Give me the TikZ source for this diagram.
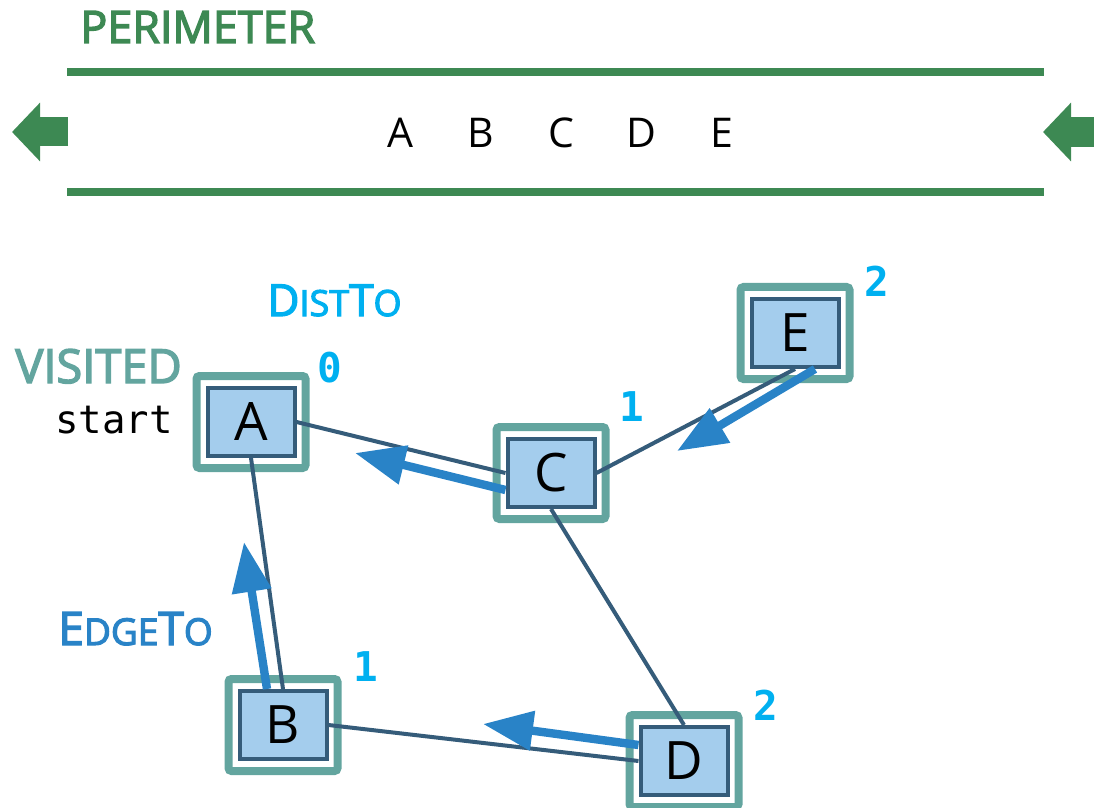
\documentclass[tikz,border=0pt]{standalone}
\usepackage{fontspec}
\setmainfont{Open Sans}
\setmonofont{DejaVu Sans Mono}
\newfontfamily\labelfont{Open Sans}[FakeBold=3]
\usepackage{tikz}
\definecolor{perigreen}{RGB}{61,137,83}
\definecolor{visitteal}{RGB}{99,165,159}
\definecolor{vertfill}{RGB}{164,205,237}
\definecolor{vertline}{RGB}{53,92,122}
\definecolor{treeblue}{RGB}{41,131,199}
\definecolor{distcyan}{RGB}{0,176,240}
\usetikzlibrary{arrows.meta, calc}
% unechte Kapitaelchen
\newcommand{\fakesc}[2]{{\fontsize{#1}{#1}\selectfont #2}}

\begin{document}
\begin{tikzpicture}[x=0.5pt, y=-0.5pt,
				vertex/.style={draw=vertline, fill=vertfill, line width=2pt, minimum width=43.5pt, minimum height=34pt, inner sep=0pt, font=\fontsize{26.5}{26.5}\selectfont},
				marked/.style={draw=visitteal, line width=4pt, rounded corners=1.5pt},
				link/.style={draw=vertline, line width=2pt},
				treelink/.style={draw=treeblue, line width=4.2pt, -{Triangle[length=25pt, width=19pt]}},
				distlabel/.style={text=distcyan, anchor=base, inner sep=0pt, font=\ttfamily\bfseries\fontsize{20.5}{20.5}\selectfont},
				caption/.style={anchor=base west, inner sep=0pt}]
				\useasboundingbox (0,0) rectangle (1094,808);
				% Warteschlange oben
				\node[caption, text=perigreen, font=\labelfont\fontsize{22.4}{22.4}\selectfont] (peri) at (80,43) {PERIMETER};
				\draw[perigreen, line width=4pt] (67,72) -- (1044,72);
				\draw[perigreen, line width=4pt] (67,192) -- (1044,192);
				\draw[perigreen, line width=14.5pt, -{Triangle[length=14pt, width=28.5pt]}] (68,132) -- (12,132);
				\draw[perigreen, line width=15pt, -{Triangle[length=14pt, width=28.5pt]}] (1094,132) -- (1043,132);
				\foreach \l/\x in {A/400,B/481,C/561,D/641,E/722}
					\node[anchor=base, inner sep=0pt, font=\fontsize{20.5}{20.5}\selectfont] (q\l) at (\x,148) {\l};
				% Knoten
				\node[vertex] (A) at (251,422) {A};
				\node[vertex] (B) at (283,725) {B};
				\node[vertex] (C) at (551,473) {C};
				\node[vertex] (D) at (684,761) {D};
				\node[vertex] (E) at (795,333) {E};
				% besuchte Knoten umrahmen
				\foreach \n in {A,B,C,D,E}
					\draw[marked] ([shift={(-4.5pt,5pt)}]\n.north west) rectangle ([shift={(4.5pt,-5pt)}]\n.south east);
				% Kanten
				\draw[link] (A.east) -- (C.west);
				\draw[link] (A.south) -- (B.north);
				\draw[link] (C.east) -- (E.south);
				\draw[link] (C.south) -- (D.north);
				\draw[link] (B.east) -- (D.west);
				% edgeTo
				\coordinate (tipA1) at (355,453);
				\coordinate (tipA2) at (244,542);
				\coordinate (tipC) at (677,451);
				\coordinate (tipB) at (483,724);
				\draw[treelink] ([yshift=-8.5pt]C.west) -- (tipA1);
				\draw[treelink] ([xshift=-8pt]B.north) -- (tipA2);
				\draw[treelink] ([xshift=10pt]E.south) -- (tipC);
				\draw[treelink] ([yshift=8pt]D.west) -- (tipB);
				% distTo
				\node[distlabel] (dA) at (330,382) {0};
				\node[distlabel] (dB) at (366,681) {1};
				\node[distlabel] (dC) at (632,422) {1};
				\node[distlabel] (dD) at (766,720) {2};
				\node[distlabel] (dE) at (877,297) {2};
				% Beschriftung
				\node[caption, text=visitteal, font=\labelfont\fontsize{23.5}{23.5}\selectfont] (visited) at (15,383) {VISITED};
				\node[anchor=base east, inner sep=0pt, font=\ttfamily\fontsize{19.5}{19.5}\selectfont] (start) at (173,433) {start};
				\node[caption, text=distcyan, font=\labelfont\fontsize{22}{22}\selectfont] (distto) at (267,316) {D\fakesc{18}{IST}T\fakesc{18}{O}};
				\node[caption, text=treeblue, font=\labelfont\fontsize{23}{23}\selectfont] (edgeto) at (58,645) {E\fakesc{18.5}{DGE}T\fakesc{18.5}{O}};
			\end{tikzpicture}
\end{document}
